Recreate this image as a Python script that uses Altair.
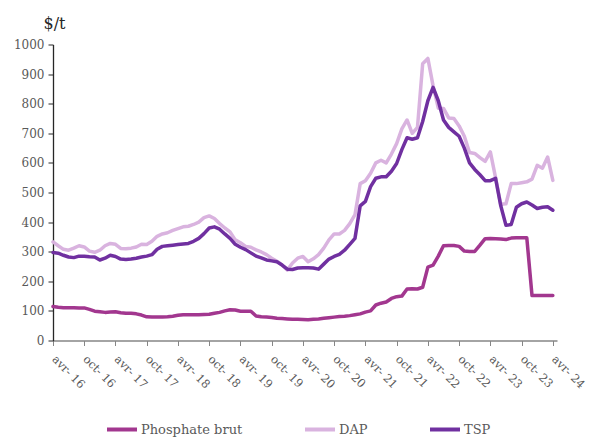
import altair as alt
import pandas as pd

series_names = ["Phosphate brut", "DAP", "TSP"]
series_colors = ["#A2378F", "#D9B3DF", "#7030A0"]

brut = [115, 112, 111, 111, 111, 110, 110, 105, 99, 97, 95, 96, 97, 94, 92, 92, 90, 86, 80, 79,
        79, 79, 80, 82, 85, 87, 87, 87, 87, 88, 89, 92, 95, 100, 104, 103, 99, 99, 99, 83,
        80, 79, 78, 75, 74, 73, 72, 72, 71, 70, 72, 73, 75, 77, 79, 81, 82, 84, 87, 90,
        96, 100, 120, 126, 130, 142, 148, 150, 174, 175, 174, 180, 248, 255, 285, 320, 321, 321, 318, 302,
        301, 301, 322, 344, 345, 344, 343, 341, 346, 347, 347, 347, 152, 152, 152, 152, 152]

dap = [333, 320, 308, 305, 312, 320, 316, 302, 298, 305, 320, 328, 325, 311, 310, 312, 316, 325, 324, 335,
       352, 360, 364, 372, 378, 384, 386, 392, 400, 415, 421, 412, 395, 380, 367, 340, 330, 318, 315, 306,
       299, 290, 278, 268, 255, 238, 262, 278, 284, 266, 276, 290, 312, 340, 360, 360, 372, 395, 425, 530,
       540, 565, 600, 609, 600, 630, 665, 715, 745, 700, 720, 935, 953, 860, 785, 784, 752, 750, 725, 690,
       635, 632, 618, 605, 637, 550, 460, 462, 530, 530, 533, 536, 545, 592, 582, 620, 541]

tsp = [297, 295, 288, 282, 280, 285, 285, 283, 282, 272, 278, 288, 284, 275, 274, 275, 278, 282, 285, 290,
       308, 318, 320, 322, 324, 326, 328, 335, 345, 361, 380, 384, 376, 360, 345, 325, 315, 307, 296, 285,
       279, 272, 269, 266, 255, 241, 240, 245, 246, 246, 245, 241, 258, 275, 284, 291, 305, 325, 345, 455,
       470, 520, 548, 553, 553, 572, 598, 645, 685, 680, 685, 740, 810, 855, 810, 745, 720, 705, 690, 650,
       600, 578, 560, 540, 540, 548, 455, 389, 392, 450, 462, 468, 458, 446, 450, 452, 440]

tick_labels = ["avr- 16", "oct- 16", "avr- 17", "oct- 17", "avr- 18", "oct- 18", "avr- 19", "oct- 19",
               "avr- 20", "oct- 20", "avr- 21", "oct- 21", "avr- 22", "oct- 22", "avr- 23", "oct- 23",
               "avr- 24"]
tick_values = [6 * i for i in range(len(tick_labels))]
y_ticks = [0, 100, 200, 300, 400, 500, 600, 700, 800, 900, 1000]

rows = []
for name, vals in zip(series_names, [brut, dap, tsp]):
    for i, v in enumerate(vals):
        rows.append({"month": i, "value": v, "series": name})
df = pd.DataFrame(rows)

label_expr = "[" + ",".join("'" + t + "'" for t in tick_labels) + "][round(datum.value / 6)]"
legend_label_expr = "datum.label == 'DAP' ? 'DAP\u00a0\u00a0\u00a0\u00a0\u00a0' : datum.label"

FONT = "DejaVu Serif"

chart = alt.Chart(df).mark_line(strokeWidth=3.5, strokeJoin="round", strokeCap="round").encode(
    x=alt.X("month:Q",
            scale=alt.Scale(domain=[0, 96.8], nice=False, zero=False),
            axis=alt.Axis(values=tick_values, labelExpr=label_expr, title=None, grid=False,
                          labelAngle=45, labelAlign="left", labelBaseline="middle",
                          labelPadding=12, labelOverlap=False, labelBound=False,
                          tickSize=5, tickColor="#868686",
                          domainColor="#868686", domainWidth=1.3,
                          labelFont=FONT, labelFontSize=11.5, labelColor="#595959")),
    y=alt.Y("value:Q",
            scale=alt.Scale(domain=[0, 1000], nice=False),
            axis=alt.Axis(values=y_ticks, format="d", title="$/t", titleAngle=0, titleAlign="left",
                          titleBaseline="alphabetic", titleX=-10, titleY=-16,
                          titleFont=FONT, titleFontSize=16, titleFontWeight="normal",
                          titleColor="#262626", grid=False, tickSize=5, tickColor="#262626",
                          domainColor="#262626", domainWidth=1.3, labelPadding=4,
                          labelFont=FONT, labelFontSize=12, labelColor="#595959")),
    color=alt.Color("series:N",
                    scale=alt.Scale(domain=series_names, range=series_colors),
                    legend=alt.Legend(title=None, orient="none", direction="horizontal",
                                      legendX=52, legendY=368, symbolType="stroke",
                                      symbolSize=900, symbolStrokeWidth=4,
                                      labelExpr=legend_label_expr,
                                      labelFont=FONT, labelFontSize=13, labelColor="#595959",
                                      labelOffset=2, columnPadding=54)),
).properties(
    width=504,
    height=296,
    padding={"left": 45, "top": 36.5, "right": 34, "bottom": 96},
    autosize=alt.AutoSizeParams(type="none"),
).configure_view(stroke=None)

chart.save("out.html", embed_options={"renderer": "svg", "actions": False})
